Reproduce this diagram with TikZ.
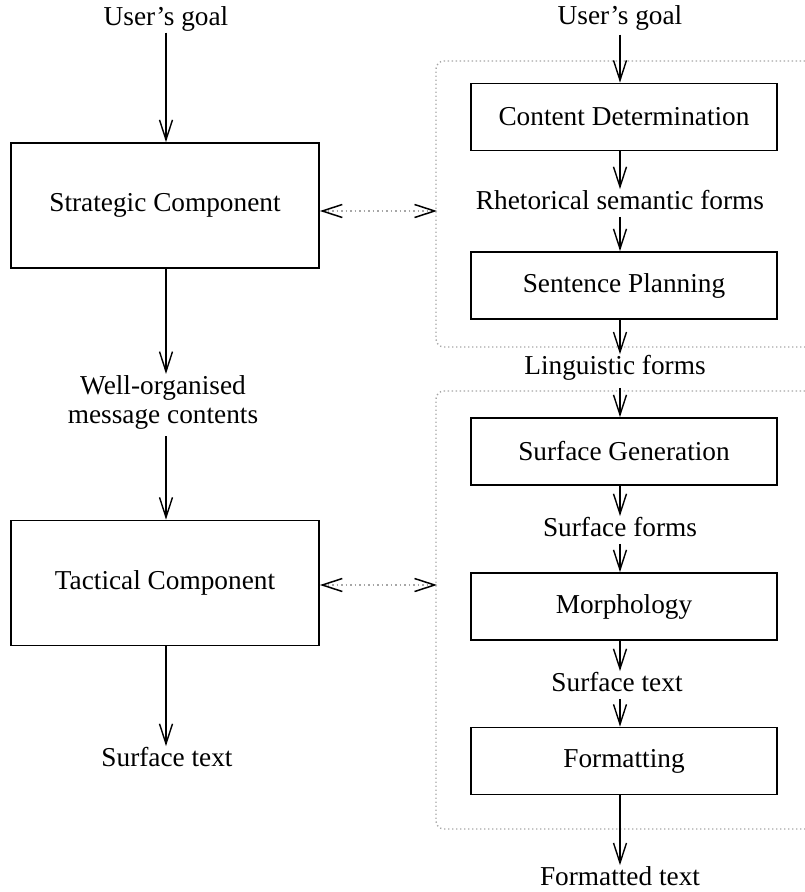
\documentclass[tikz,border=0pt]{standalone}
\usepackage{fontspec}
\setmainfont{Liberation Serif}
\usetikzlibrary{arrows.meta}
\begin{document}
\begin{tikzpicture}[x=1pt,y=-1pt,
  txt/.style={font=\fontsize{27.3}{29}\selectfont, inner sep=1pt, align=center},
  comp/.style={draw, line width=1.8pt, minimum width=308pt, minimum height=125pt,
    inner sep=0pt, font=\fontsize{27.3}{29}\selectfont},
  stage/.style={draw, line width=1.8pt, minimum width=306pt, minimum height=67pt,
    inner sep=0pt, font=\fontsize{27.3}{29}\selectfont},
  flow/.style={line width=1.4pt, -{Straight Barb[length=20pt,width=13pt,line width=1.4pt]}},
  link/.style={gray!70, line width=1.5pt, dash pattern=on 1.5pt off 3pt,
    {Straight Barb[length=20pt,width=13pt,line width=1.5pt,color=black]}-{Straight Barb[length=20pt,width=13pt,line width=1.5pt,color=black]}},
  group/.style={gray!70, line width=1.4pt, dash pattern=on 1.3pt off 2.7pt, rounded corners=8pt}
]
\useasboundingbox (0,0) rectangle (804,892);

% axes of the two columns
\coordinate (axL) at (166,0);
\coordinate (axR) at (620,0);

% left column: two-component architecture
\node[txt] (goalL) at (166,19) {User’s goal};
\node[comp] (strat) at (165,205.5) {Strategic Component};
\node[txt] (msg) at (163,402) {Well-organised\\message contents};
\node[comp] (tact) at (165,583) {Tactical Component};
\node[txt] (outL) at (167,757) {Surface text};

% right column: pipeline of stages
\node[txt] (goalR) at (620,18) {User’s goal};
\node[stage] (cd) at (624,117) {Content Determination};
\node[txt] (rsf) at (620,200) {Rhetorical semantic forms};
\node[stage] (sp) at (624,285.5) {Sentence Planning};
\node[txt] (lf) at (615,368) {Linguistic forms};
\node[stage] (sg) at (624,451.5) {Surface Generation};
\node[txt] (sf) at (620,527) {Surface forms};
\node[stage] (mo) at (624,606.5) {Morphology};
\node[txt] (st) at (617,682) {Surface text};
\node[stage] (fo) at (624,761) {Formatting};
\node[txt] (ft) at (620,876) {Formatted text};

% groupings of stages (open to the right)
\draw[group] (805,61) -- (436,61) -- (436,347) -- (805,347);
\draw[group] (805,391) -- (436,391) -- (436,829) -- (805,829);

% left column flow
\draw[flow] (goalL.south -| axL) -- (strat.north -| axL);
\draw[flow] (strat.south -| axL) -- (msg.north -| axL);
\draw[flow] ([yshift=-6pt]msg.south -| axL) -- (tact.north -| axL);
\draw[flow] (tact.south -| axL) -- (outL.north -| axL);

% right column flow
\draw[flow] ([yshift=-3pt]goalR.south -| axR) -- (cd.north -| axR);
\draw[flow] (cd.south -| axR) -- (rsf.north -| axR);
\draw[flow] ([yshift=-6pt]rsf.south -| axR) -- (sp.north -| axR);
\draw[flow] (sp.south -| axR) -- (lf.north -| axR);
\draw[flow] ([yshift=-6pt]lf.south -| axR) -- (sg.north -| axR);
\draw[flow] (sg.south -| axR) -- (sf.north -| axR);
\draw[flow] ([yshift=-6pt]sf.south -| axR) -- (mo.north -| axR);
\draw[flow] (mo.south -| axR) -- (st.north -| axR);
\draw[flow] ([yshift=-6pt]st.south -| axR) -- (fo.north -| axR);
\draw[flow] (fo.south -| axR) -- (ft.north -| axR);

% correspondences between components and groups
\coordinate (gA) at (437,211);
\coordinate (gB) at (437,585);
\draw[link] (strat.east |- gA) -- (gA);
\draw[link] (tact.east |- gB) -- (gB);
\end{tikzpicture}
\end{document}
